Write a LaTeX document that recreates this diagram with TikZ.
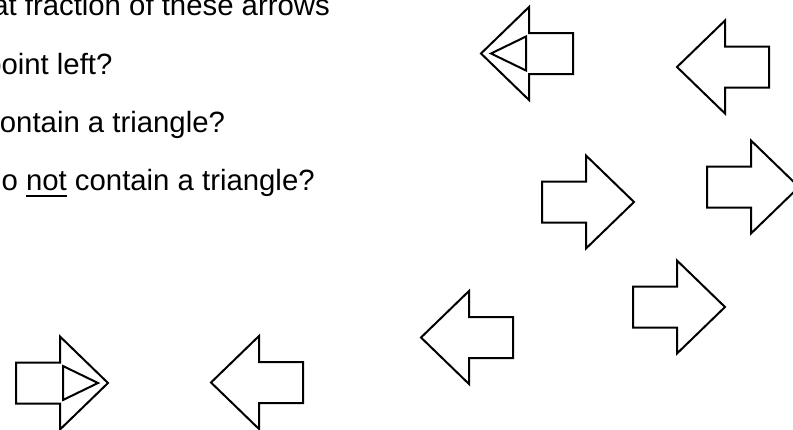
\documentclass[tikz,border=0pt]{standalone}
\usepackage{fontspec}
\setmainfont{Liberation Sans}
\newsavebox\ulbox
\newcommand\thickul[1]{\leavevmode\sbox\ulbox{#1}\rlap{\rule[-5.2pt]{\wd\ulbox}{1.8pt}}\usebox\ulbox}
\begin{document}
\begin{tikzpicture}[x=0.75pt,y=-0.75pt,
  arrowline/.style={draw=black,line width=1.5pt,line join=miter,fill=white},
  qtext/.style={anchor=base west,inner sep=0pt,font=\fontsize{22}{26}\selectfont},
  leftarrow/.pic={
    \path[arrowline] (0,0) -- (48,-46.5) -- (48,-20.5) -- (92,-20.5) -- (92,20.5)
      -- (48,20.5) -- (48,46.5) -- cycle;
  },
  leftarrowtri/.pic={
    \path[arrowline] (0,0) -- (48,-46.5) -- (48,-20.5) -- (92,-20.5) -- (92,20.5)
      -- (48,20.5) -- (48,46.5) -- cycle;
    \path[arrowline] (10,0) -- (45,-17) -- (45,17) -- cycle;
  }
]
\useasboundingbox (0,0) rectangle (793,429);

% question text
\node[qtext] (q1) at (-52,15) {What fraction of these arrows};
\node[qtext] (q2) at (-15,74) {point left?};
\node[qtext] (q3) at (-15,132) {contain a triangle?};
\node[qtext] (q4) at (-15,190) {do \thickul{not} contain a triangle?};

% arrows (pic origin = tip)
\pic at (481,53.5) {leftarrowtri};
\pic at (677,67) {leftarrow};
\pic[xscale=-1] at (634,202) {leftarrow};
\pic[xscale=-1] at (799,187) {leftarrow};
\pic at (421,337.5) {leftarrow};
\pic[xscale=-1] at (725,307) {leftarrow};
\pic[xscale=-1] at (108,383) {leftarrowtri};
\pic at (211,382.5) {leftarrow};
\end{tikzpicture}
\end{document}
